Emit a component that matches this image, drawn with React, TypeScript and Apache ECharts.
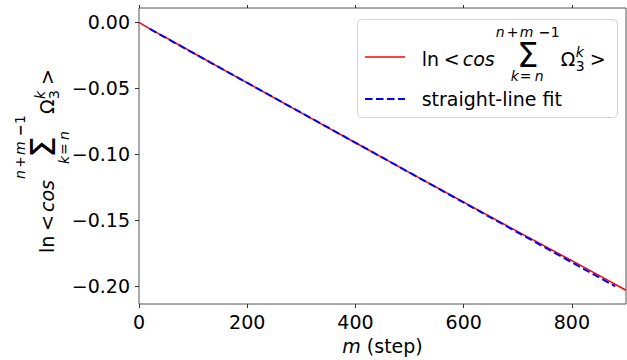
import React, { useEffect, useRef } from "react";
import * as echarts from "echarts";

// Data
const redSteps = [0, 10, 25, 50, 100, 150, 200, 250, 300, 350, 400, 450, 500, 550, 600, 650, 700, 750, 800, 850, 900];
const redValues = [0, -0.0024, -0.006, -0.0116, -0.023, -0.0344, -0.0458, -0.0572, -0.0686, -0.08, -0.0912, -0.1025, -0.1138, -0.125, -0.1362, -0.1474, -0.1585, -0.1696, -0.1806, -0.1917, -0.203];
const fitSteps = [20, 880];
const fitValues = [-0.005, -0.2];
const xTicks = [0, 200, 400, 600, 800];
const yTicks = [0, -0.05, -0.1, -0.15, -0.2];
const fitLabel = "straight-line fit";
const xName = "m";
const xNameRest = " (step)";

const FONT = "DejaVu Sans";

function mathLabel(x: number, y: number, rotation: number, z: number) {
  const big = `19px "${FONT}"`;
  const bigI = `italic 19px "${FONT}"`;
  const sm = `14px "${FONT}"`;
  const smI = `italic 14px "${FONT}"`;
  const t = (text: string, lx: number, ly: number, font: string, align = "left") => ({
    type: "text",
    x: lx,
    y: ly,
    z,
    silent: true,
    style: { text, font, fill: "#000", align, textAlign: align, verticalAlign: "middle", textVerticalAlign: "middle" },
  });
  return {
    type: "group",
    x,
    y,
    z,
    rotation,
    children: [
      t("ln", 0, -6, big),
      t("<", 22, -6, big),
      t("cos", 41, -6, bigI),
      t("Σ", 106, -10, `34px "${FONT}"`, "center"),
      t("n", 74, -33, smI),
      t("+", 85, -33, sm),
      t("m", 98, -33, smI),
      t("−", 117, -33, `bold 14px "${FONT}"`),
      t("1", 129, -33, sm),
      t("k", 89, 11, smI),
      t("=", 98, 11, sm),
      t("n", 113, 11, smI),
      t("Ω", 139, -6, big),
      t("k", 154, -13, smI),
      t("3", 154, 1, sm),
      t(">", 168, -6, big),
    ],
  };
}

export default function App() {
  const ref = useRef<HTMLDivElement>(null);
  useEffect(() => {
    if (!ref.current) return;
    const chart = echarts.init(ref.current, null, { renderer: "svg" });
    const fmt = (v: number) => (v === 0 ? "0.00" : (v < 0 ? "\u2212" : "") + Math.abs(v).toFixed(2));
    const tickStyle = { color: "#333", width: 1 };
    chart.setOption({
      animation: false,
      backgroundColor: "#fff",
      grid: { left: 139, right: 1, top: 8, bottom: 50, show: true, borderColor: "#555", borderWidth: 1, backgroundColor: "transparent" },
      xAxis: [
        {
          type: "value",
          position: "bottom",
          min: 0,
          max: 900,
          name: `{i|${xName}}${xNameRest}`,
          nameLocation: "middle",
          nameGap: 32,
          nameTextStyle: { fontFamily: FONT, fontSize: 19, color: "#000", rich: { i: { fontFamily: FONT, fontSize: 19, fontStyle: "italic", color: "#000" } } },
          axisLine: { show: false, onZero: false },
          axisTick: { show: true, inside: false, length: 4, lineStyle: tickStyle, customValues: xTicks },
          axisLabel: { fontFamily: FONT, fontSize: 19, color: "#000", margin: 8, customValues: xTicks },
          splitLine: { show: false },
        },
        {
          type: "value",
          position: "top",
          min: 0,
          max: 900,
          axisLine: { show: false, onZero: false },
          axisTick: { show: true, inside: false, length: 3, lineStyle: tickStyle, customValues: xTicks },
          axisLabel: { show: false },
          splitLine: { show: false },
        },
      ],
      yAxis: {
        type: "value",
        min: -0.2134,
        max: 0.0109,
        axisLine: { show: false, onZero: false },
        axisTick: { show: true, inside: false, length: 4, lineStyle: tickStyle, customValues: yTicks },
        axisLabel: { fontFamily: FONT, fontSize: 19, color: "#000", margin: 9, formatter: fmt, customValues: yTicks },
        splitLine: { show: false },
      },
      series: [
        {
          type: "line",
          data: redSteps.map((s, i) => [s, redValues[i]]),
          showSymbol: false,
          lineStyle: { color: "#ff0000", width: 1.5 },
          z: 2,
          silent: true,
        },
        {
          type: "line",
          data: fitSteps.map((s, i) => [s, fitValues[i]]),
          showSymbol: false,
          lineStyle: { color: "#0000ff", width: 2, type: [7.5, 3.5] },
          z: 3,
          silent: true,
        },
      ],
      graphic: [
        {
          type: "rect",
          z: 10,
          shape: { x: 357.5, y: 19.5, width: 260, height: 98, r: 4 },
          style: { fill: "rgba(255,255,255,0.8)", stroke: "#d4d4d4", lineWidth: 1 },
        },
        { type: "line", z: 11, shape: { x1: 365, y1: 57, x2: 405, y2: 57 }, style: { stroke: "#ff0000", lineWidth: 1.5 } },
        { type: "line", z: 11, shape: { x1: 365, y1: 99, x2: 405, y2: 99 }, style: { stroke: "#0000ff", lineWidth: 2, lineDash: [7.5, 3.5] } },
        mathLabel(421.7, 65, 0, 11),
        {
          type: "text",
          x: 421.7,
          y: 99,
          z: 11,
          style: { text: fitLabel, font: `19px "${FONT}"`, fill: "#000", align: "left", textAlign: "left", verticalAlign: "middle", textVerticalAlign: "middle" },
        },
        mathLabel(53, 253, Math.PI / 2, 11),
      ],
    });
    return () => chart.dispose();
  }, []);
  return <div ref={ref} style={{ position: "fixed", left: 0, top: 0, width: 627, height: 360 }} />;
}
